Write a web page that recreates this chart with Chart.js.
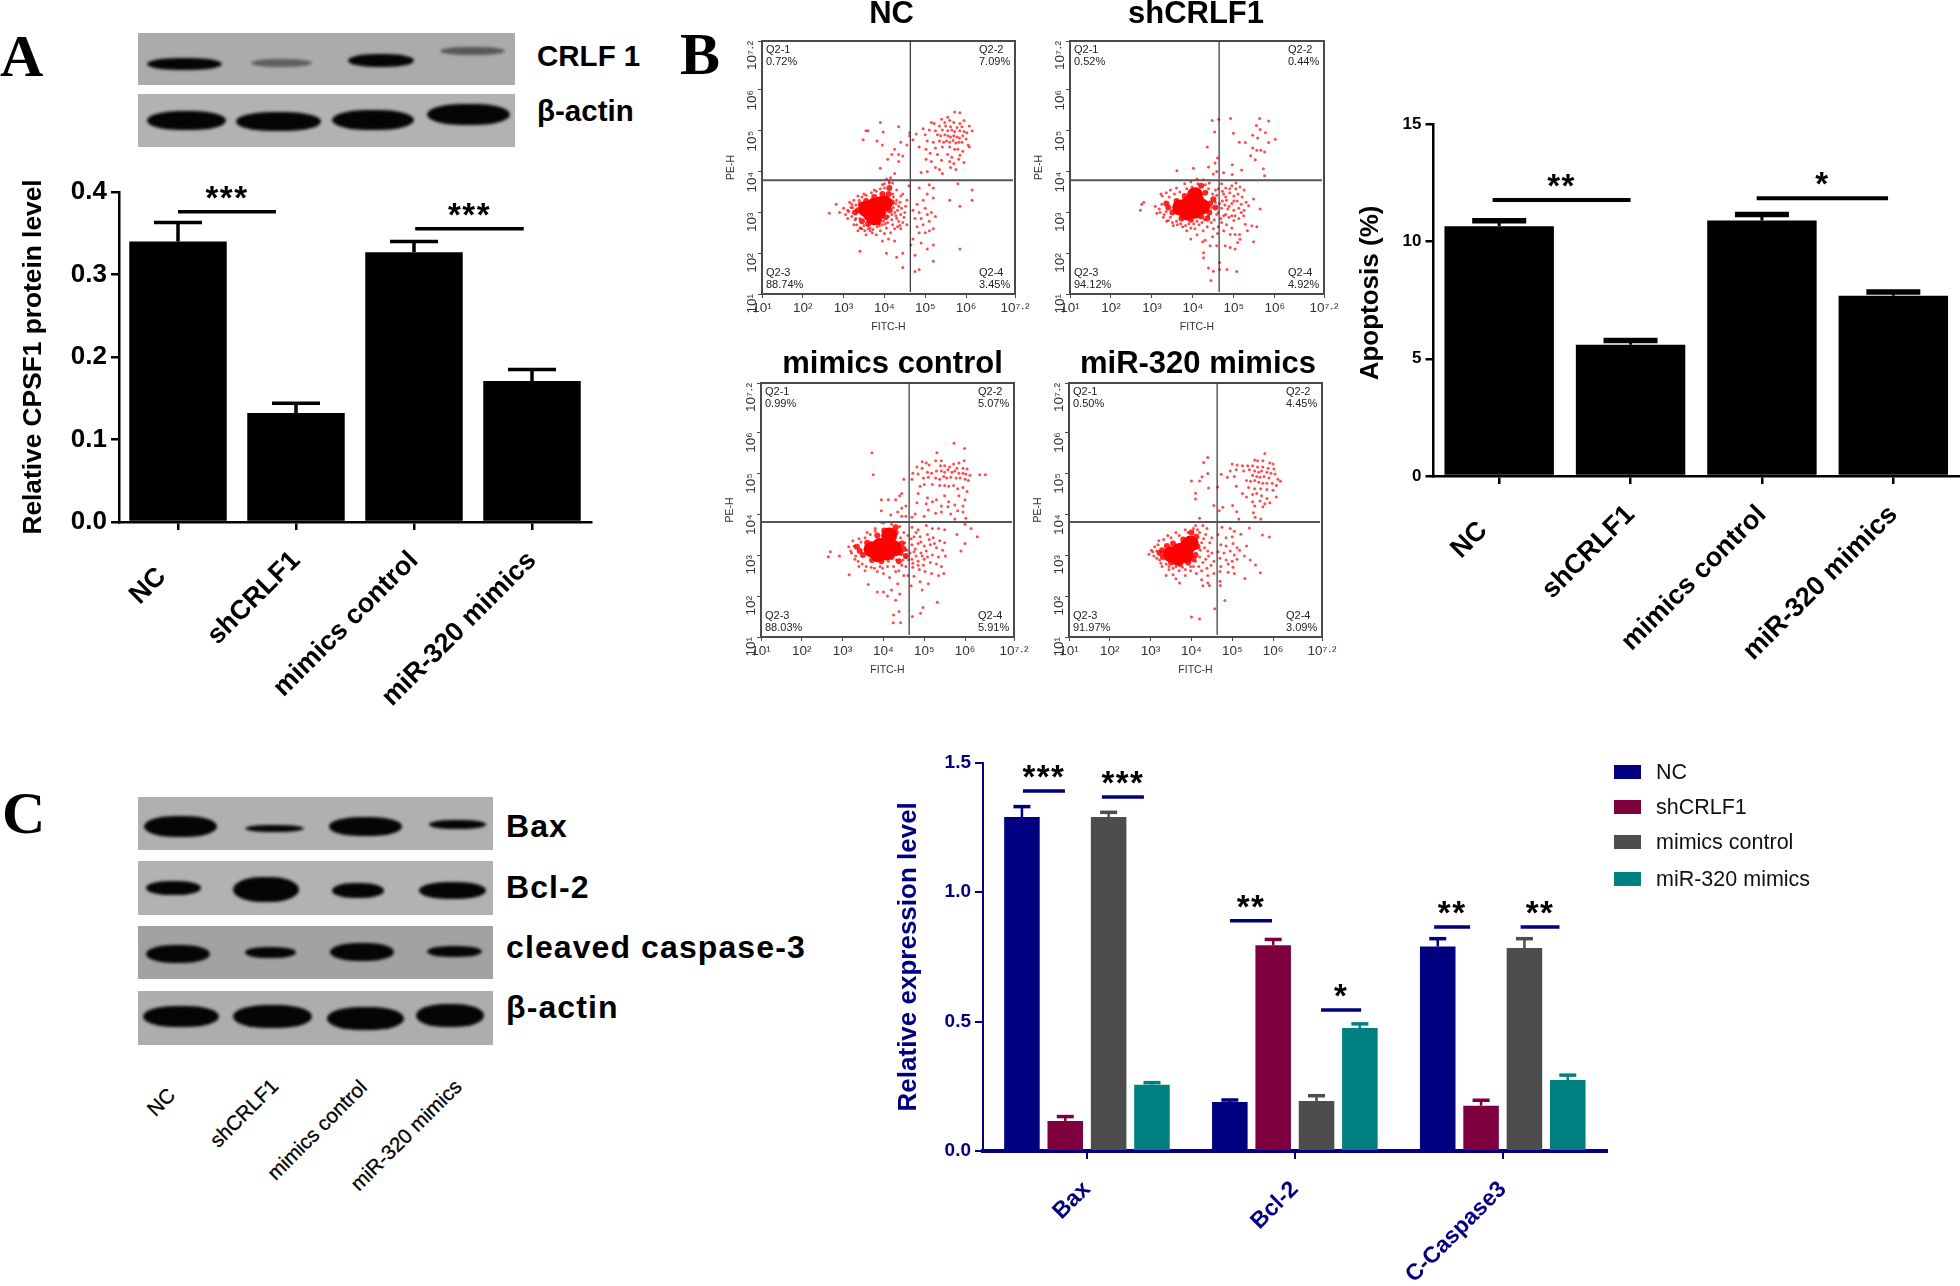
<!DOCTYPE html>
<html>
<head>
<meta charset="utf-8">
<script src="https://cdn.jsdelivr.net/npm/chart.js@4/dist/chart.umd.min.js"></script>
<style>
  html, body { margin: 0; padding: 0; background: #fff; }
  body { position: relative; width: 1960px; height: 1286px; overflow: hidden; font-family: "Liberation Sans", Arial, sans-serif; }
  canvas { position: absolute; }
  .txt { position: absolute; white-space: nowrap; color: #000; }
  .blot { position: absolute; overflow: hidden; }
  .band { position: absolute; border-radius: 42% / 50%; background: #050505; filter: blur(1.5px); }
</style>
</head>
<body>
<script>
// ---- data ----
const groups = ['NC', 'shCRLF1', 'mimics control', 'miR-320 mimics'];
// the NC label sits further from its tick in the original
const barLabels = ['NC   ', 'shCRLF1', 'mimics control', 'miR-320 mimics'];

const panelAValues = [0.340, 0.132, 0.327, 0.171];
const panelAErrTops = [0.363, 0.144, 0.340, 0.185];
const panelATicks = [0, 0.1, 0.2, 0.3, 0.4];
// from, to (in category units), height, stars
const panelASig = [[0, 0.83, 0.376, '***'], [2.01, 2.93, 0.3555, '***']];

const panelBValues = [10.66, 5.6, 10.9, 7.69];
const panelBErrTops = [10.89, 5.78, 11.16, 7.85];
const panelBTicks = [0, 5, 10, 15];
const panelBSig = [[-0.05, 1.0, 11.78, '**'], [1.96, 2.96, 11.85, '*']];

const panelCGenes = ['Bax', 'Bcl-2', 'C-Caspase3'];
const cNC = [1.29, 0.189, 0.79];
const cSh = [0.116, 0.795, 0.175];
const cMimics = [1.29, 0.193, 0.784];
const cMiR = [0.256, 0.475, 0.274];
const cNCErr = [1.33, 0.197, 0.82];
const cShErr = [0.133, 0.817, 0.196];
const cMimicsErr = [1.308, 0.2135, 0.82];
const cMiRErr = [0.264, 0.491, 0.293];
const panelCTicks = [0, 0.5, 1.0, 1.5];
const panelCSig = [
  [-0.308, -0.106, 1.39, '***'], [0.072, 0.274, 1.367, '***'],
  [0.688, 0.89, 0.8896, '**'], [1.126, 1.319, 0.545, '*'],
  [1.67, 1.843, 0.865, '**'], [2.086, 2.273, 0.865, '**']
];
const seriesColors = ['#000080', '#7f003f', '#4d4d4d', '#008080'];

// flow plots: values are log10 of the FITC-H / PE-H signal
const logTicks = [1, 2, 3, 4, 5, 6, 7.2];
const logTickLabels = ['10¹', '10²', '10³', '10⁴', '10⁵', '10⁶', '10⁷·²'];
const quadX = [4.635, 4.64, 4.63, 4.63];
const quadY = [3.79, 3.79, 3.81, 3.81];
const flowPct = [
  ['0.72%', '7.09%', '88.74%', '3.45%'],
  ['0.52%', '0.44%', '94.12%', '4.92%'],
  ['0.99%', '5.07%', '88.03%', '5.91%'],
  ['0.50%', '4.45%', '91.97%', '3.09%']
];

const ncCore = [[3.55,3.08],[3.75,3.16],[3.91,3.20],[3.67,2.96],[3.83,3.0],[3.75,2.88],[4.0,3.22]];
const ncMid = [[3.35,3.05],[3.28,3.0],[3.45,2.78],[3.6,2.72],[3.85,2.76],[4.03,2.88],[4.13,3.05],[4.18,3.25],[4.1,3.45],[3.95,3.45],[3.75,3.38],[3.55,3.28],[4.12,3.6],[3.42,3.2],[3.98,3.02]];
const ncDots = [[5.72,5.46],[5.85,5.44],[5.55,5.33],[5.4,5.28],[5.6,5.25],[5.95,5.25],[5.15,5.2],[5.22,5.18],[5.48,5.2],[5.7,5.2],[5.85,5.18],[6.08,5.12],[5.35,5.12],[5.5,5.12],[5.62,5.1],[5.78,5.08],[5.9,5.1],[6.15,5.0],[4.95,5.05],[5.1,5.02],[5.25,5.0],[5.42,5.02],[5.55,5.0],[5.65,5.02],[5.72,4.98],[5.85,5.0],[5.95,4.98],[6.02,4.95],[4.78,4.92],[5.0,4.9],[5.3,4.9],[5.38,4.88],[5.48,4.9],[5.56,4.88],[5.62,4.85],[5.7,4.88],[5.78,4.85],[5.84,4.82],[5.92,4.88],[6.0,4.8],[4.7,4.78],[5.05,4.75],[5.2,4.72],[5.35,4.75],[5.45,4.72],[5.52,4.75],[5.6,4.72],[5.68,4.76],[5.75,4.7],[5.82,4.72],[5.9,4.72],[6.05,4.65],[4.85,4.6],[5.02,4.55],[5.25,4.58],[5.42,4.6],[5.6,4.6],[5.72,4.55],[5.8,4.55],[5.92,4.5],[6.08,4.6],[5.12,4.45],[5.3,4.42],[5.55,4.42],[5.65,4.35],[5.85,4.4],[5.02,4.3],[5.15,4.25],[5.4,4.28],[5.6,4.25],[5.7,4.2],[5.82,4.3],[5.95,4.22],[5.25,4.1],[5.35,4.05],[5.62,4.1],[5.75,4.05],[5.05,4.0],[4.9,3.98],[5.42,3.95],
  [3.9,5.2],[3.55,5.0],[3.6,5.0],[3.97,4.97],[3.48,4.78],[3.82,4.75],[3.95,4.65],[4.35,5.1],[4.62,4.95],[4.62,4.88],[4.4,4.72],[4.55,4.65],[4.25,4.55],[4.18,4.42],[4.35,4.42],[4.45,4.38],[4.08,4.3],[4.35,4.25],[3.9,4.08],[4.25,3.95],
  [4.6,3.65],[4.85,3.6],[5.1,3.68],[5.2,3.6],[5.05,3.45],[5.2,3.35],[5.8,3.7],[6.15,3.55],[6.15,3.3],[5.6,3.3],[5.85,3.15],[4.95,3.3],[4.8,3.2],[4.7,3.05],[4.85,3.0],[5.0,3.1],[5.05,2.95],[5.15,3.0],[4.75,2.85],[4.9,2.85],[4.95,2.7],[5.1,2.78],[5.25,2.9],[4.8,2.65],[4.85,2.5],[5.0,2.5],[5.1,2.55],[5.2,2.6],[4.7,2.35],[4.65,2.2],[4.9,2.25],[5.05,2.1],[5.2,2.2],[5.85,2.1],[4.75,1.95],[5.2,1.8],[4.85,1.6],[4.75,1.55],[4.45,1.65],[4.45,2.0],[4.3,1.9],[4.05,2.0],[3.4,2.05],
  [2.65,2.98],[2.82,3.2],[2.9,3.0],[3.0,3.1],[3.05,2.95],[3.1,2.85],[3.2,3.2],[3.25,3.3],[3.25,2.7],[3.35,2.55],[3.45,2.6],[3.55,2.45],[3.6,2.68],[3.7,2.5],[3.8,2.45],[3.9,2.55],[3.95,2.7],[4.05,2.62],[4.15,2.5],[4.2,2.7],[4.3,2.85],[4.25,3.0],[4.35,3.15],[4.3,3.3],[4.2,3.45],[4.3,3.55],[4.12,3.75],[4.0,3.7],[3.75,3.55],[3.5,3.45],[3.35,3.4],[4.45,2.75],[4.5,3.0],[4.4,2.6],[4.55,3.3],[4.1,2.35],[4.25,2.3],[3.95,2.3],[3.18,3.12],[3.12,3.02],[3.3,2.85],[3.4,2.62],[3.65,2.55],[4.0,2.48],[4.32,2.65],[4.4,2.95],[4.4,3.4],
  [3.1,3.05],[3.15,3.25],[3.2,2.9],[3.22,3.12],[3.28,2.82],[3.3,3.18],[3.32,2.7],[3.38,3.3],[3.4,2.85],[3.42,2.62],[3.45,3.38],[3.5,2.68],[3.52,2.55],[3.55,3.42],[3.6,2.6],[3.65,2.62],[3.68,3.48],[3.72,2.58],[3.75,2.72],[3.8,3.52],[3.82,2.65],[3.88,2.68],[3.9,3.58],[3.92,2.8],[3.98,2.78],[4.0,3.6],[4.02,2.72],[4.08,2.75],[4.1,2.9],[4.12,3.72],[4.18,2.82],[4.18,2.95],[4.22,3.12],[4.22,3.38],[4.25,2.6],[4.28,3.22],[4.28,2.92],[4.32,3.05],[4.35,2.78],[4.38,3.25],[4.38,2.68],[4.42,3.1],[4.45,3.45],[4.48,2.88],[4.52,3.15],[4.55,2.7],[4.15,3.85],[4.2,3.72],[4.05,3.82],[3.95,3.68]];

const shCore = [[3.69,3.12],[3.89,3.2],[4.09,3.26],[3.85,3.0],[4.05,3.04],[4.22,3.14],[4.05,3.42]];
const shMid = [[3.4,3.12],[3.5,3.0],[3.6,3.28],[3.72,2.85],[3.95,2.82],[4.2,2.9],[4.4,3.0],[4.42,3.22],[4.3,3.48],[4.2,3.65],[3.8,3.4],[4.5,3.32],[4.55,3.12],[3.35,3.22],[4.35,2.85]];
const shDots = [[5.63,5.3],[5.85,5.24],[5.55,5.13],[5.64,5.03],[5.46,4.89],[5.77,4.95],[5.58,4.82],[6.01,4.79],[5.13,4.72],[5.28,4.71],[5.85,4.71],[5.46,4.58],[5.56,4.52],[5.66,4.52],[5.75,4.48],[5.52,4.29],[5.41,4.39],[5.72,4.07],[5.19,4.04],[5.75,3.9],[4.96,4.17],[4.96,3.93],[4.99,4.94],[4.92,5.3],[4.53,4.97],[4.47,5.25],[4.63,5.28],[4.35,4.6],[4.6,4.33],[4.54,4.21],[4.01,4.08],[3.61,4.02],[4.38,4.11],[4.5,3.94],[4.75,3.97],[4.58,4.0],
  [4.26,2.01],[4.26,1.89],[4.38,1.64],[4.5,1.56],[4.65,1.77],[4.65,1.6],[4.83,1.6],[5.07,1.55],[4.44,1.33],[4.24,2.28],[4.42,2.18],[4.58,2.18],[4.79,2.18],[4.91,2.14],[5.03,2.1],[5.09,2.26],[5.15,2.34],[4.91,2.46],[5.03,2.46],[5.14,2.46],[5.48,2.28],[5.33,2.55],[5.44,2.67],[5.56,2.65],[5.28,2.71],[5.03,2.92],[5.64,3.08],[5.48,3.33],[5.36,3.16],[5.24,2.92],
  [4.7,3.7],[4.8,3.6],[4.95,3.65],[5.05,3.72],[5.15,3.62],[5.25,3.55],[4.75,3.45],[4.9,3.48],[5.0,3.4],[5.1,3.45],[5.2,3.38],[4.72,3.28],[4.82,3.3],[4.95,3.22],[5.08,3.28],[5.18,3.2],[5.3,3.25],[4.7,3.1],[4.85,3.08],[5.0,3.05],[5.12,3.1],[5.25,3.05],[4.75,2.92],[4.88,2.88],[5.0,2.8],[5.12,2.85],[4.7,2.75],[4.82,2.7],[4.95,2.62],[4.75,2.55],[4.6,2.48],[4.5,2.6],[4.45,2.75],[4.35,2.65],[4.25,2.55],[4.15,2.7],[4.05,2.6],[3.95,2.62],[3.85,2.55],[3.75,2.65],[3.62,2.7],[3.5,2.75],[3.4,2.8],[3.3,2.95],[3.2,3.0],[3.12,2.98],[3.08,3.15],[3.25,3.4],[3.35,3.48],[3.45,3.55],[3.6,3.6],[3.8,3.7],[3.95,3.75],[4.1,3.82],[4.25,3.8],[4.4,3.72],[2.8,3.25],[2.75,3.2],[2.72,3.05],[3.22,3.45],[3.95,2.35],[4.1,2.45],[4.3,2.32],[4.48,2.4],[4.58,2.95],[4.55,3.55],
  [3.18,3.08],[3.24,3.2],[3.28,2.88],[3.35,3.02],[3.36,2.78],[3.42,3.38],[3.45,2.88],[3.52,2.68],[3.55,3.45],[3.6,2.78],[3.68,3.5],[3.7,2.72],[3.82,2.68],[3.85,3.58],[3.9,2.72],[3.98,3.62],[4.02,2.72],[4.1,2.78],[4.12,3.7],[4.22,2.75],[4.28,2.82],[4.3,3.68],[4.38,3.58],[4.38,2.92],[4.45,3.12],[4.48,3.45],[4.52,2.82],[4.55,3.25],[4.58,3.42],[4.62,3.0],[4.62,3.58],[4.62,2.65],[4.65,3.22],[4.68,2.85],[4.72,3.52],[4.78,3.18],[4.8,2.95],[4.8,3.38],[4.88,3.15],[4.9,3.58],[4.95,2.92],[5.0,3.28],[5.05,3.58],[5.18,3.0]];

const mimCore = [[3.71,3.14],[3.91,3.22],[4.12,3.28],[3.87,3.02],[4.07,3.06],[4.26,3.16],[4.14,3.48]];
const mimMid = [[3.42,3.1],[3.5,3.0],[3.6,3.3],[3.72,2.88],[3.95,2.85],[4.2,2.95],[4.42,3.05],[4.45,3.28],[4.3,3.55],[3.85,3.48],[4.02,3.6],[4.5,3.15],[3.35,3.2],[4.38,2.85],[4.55,2.98],[4.3,3.68]];
const mimDots = [[3.72,5.5],[3.75,4.96],[5.73,5.73],[5.31,5.5],[5.99,5.6],[6.36,4.96],[6.5,4.96],[2.7,3.08],[2.65,2.96],[2.92,2.98],[3.16,2.52],[3.63,2.28],[5.32,1.85],[4.97,1.72],[4.91,1.58],[4.71,1.5],[4.38,1.62],[4.25,1.54],[4.42,1.35],[4.24,1.35],
  [4.95,5.28],[5.05,5.25],[5.28,5.3],[5.42,5.3],[5.72,5.22],[5.85,5.25],[5.98,5.3],[4.82,5.15],[4.95,5.12],[5.12,5.2],[5.4,5.18],[5.5,5.18],[5.62,5.15],[5.8,5.12],[5.95,5.12],[6.05,5.1],[4.72,5.0],[4.85,4.98],[5.08,5.02],[5.18,5.0],[5.3,5.05],[5.42,5.05],[5.5,5.02],[5.58,5.08],[5.68,5.02],[5.75,5.05],[5.85,5.0],[5.95,5.0],[6.02,4.98],[6.12,4.95],[4.7,4.85],[4.98,4.88],[5.1,4.9],[5.28,4.88],[5.38,4.85],[5.48,4.92],[5.55,4.88],[5.65,4.9],[5.78,4.88],[5.88,4.88],[6.0,4.85],[6.08,4.82],[4.9,4.68],[5.0,4.72],[5.2,4.72],[5.38,4.7],[5.5,4.7],[5.6,4.68],[5.72,4.7],[5.82,4.62],[5.95,4.65],[6.05,4.55],
  [4.85,4.5],[5.08,4.4],[5.3,4.35],[5.5,4.45],[5.6,4.3],[5.85,4.45],[6.0,4.35],[5.2,4.3],[5.05,4.25],[4.82,4.28],[5.42,4.2],[5.58,4.18],[5.75,4.22],[5.95,4.2],[5.1,4.1],[5.28,4.02],[5.42,4.05],[5.65,4.0],[5.82,4.08],[5.0,3.95],[4.78,4.0],[4.7,3.92],[5.95,4.05],[6.02,3.9],[5.75,3.88],[4.5,4.85],[4.45,4.5],[4.3,4.35],[4.12,4.35],[3.95,4.35],[4.4,4.45],[4.55,4.2],[4.45,4.15],[4.35,4.05],[4.45,3.95],[4.55,3.95],[3.95,4.08],[4.18,3.98],[3.95,3.8],
  [4.7,3.68],[4.85,3.62],[5.05,3.72],[5.2,3.65],[5.35,3.65],[5.5,3.62],[6.0,3.75],[6.15,3.65],[6.3,3.45],[5.8,3.5],[6.0,3.28],[5.9,3.1],[4.75,3.45],[4.9,3.45],[5.08,3.5],[5.22,3.42],[5.38,3.35],[5.5,3.3],[4.7,3.25],[4.85,3.28],[5.0,3.22],[5.15,3.25],[5.3,3.18],[5.45,3.12],[4.75,3.08],[4.92,3.05],[5.05,3.1],[5.2,3.0],[5.35,2.95],[5.52,2.98],[4.7,2.9],[4.85,2.85],[5.0,2.9],[5.15,2.82],[5.3,2.78],[5.42,2.72],[4.72,2.7],[4.88,2.65],[5.02,2.6],[5.18,2.55],[5.35,2.5],[5.48,2.55],[4.75,2.48],[4.9,2.35],[5.1,2.3],[4.95,2.15],[4.68,2.25],
  [3.15,3.2],[3.22,3.05],[3.3,2.9],[3.4,2.72],[3.55,2.62],[3.7,2.7],[3.85,2.6],[4.0,2.55],[4.15,2.45],[4.3,2.6],[4.45,2.75],[4.55,2.95],[4.5,2.5],[4.35,2.3],[4.2,2.15],[4.0,2.1],[4.1,2.0],[4.4,2.05],[4.3,1.9],[3.85,2.1],[3.25,3.35],[3.4,3.4],[3.6,3.55],[3.8,3.65],[4.0,3.78],[4.2,3.75],[4.4,3.7],
  [3.2,3.1],[3.28,3.22],[3.32,2.98],[3.38,2.85],[3.45,3.32],[3.48,2.78],[3.55,3.42],[3.58,2.72],[3.68,3.5],[3.78,2.68],[3.8,3.58],[3.92,2.72],[3.98,2.68],[4.1,2.72],[4.12,2.85],[4.25,2.72],[4.32,2.88],[4.38,2.62],[4.42,3.42],[4.48,2.88],[4.5,3.55],[4.52,3.3],[4.55,2.72],[4.58,3.12],[4.6,3.48],[4.6,2.5],[4.62,2.88],[4.65,3.05],[4.68,3.4],[4.72,2.8],[4.78,3.15],[4.8,3.55],[4.8,2.98],[4.85,2.75],[4.92,3.32],[4.95,2.98],[4.98,2.75],[5.08,2.95],[5.12,3.38],[5.25,3.28]];

const miRCore = [[3.5,3.02],[3.71,3.1],[3.88,3.18],[3.67,2.94],[3.85,3.0],[3.98,3.28]];
const miRMid = [[3.22,3.05],[3.3,2.95],[3.4,3.22],[3.5,2.82],[3.72,2.78],[3.92,2.82],[4.1,3.0],[4.15,3.2],[4.12,3.45],[4.0,3.55],[3.8,3.38],[3.55,3.28],[3.28,3.12],[4.05,2.9],[3.62,3.18]];
const miRDots = [[4.4,5.38],[4.3,5.26],[4.4,4.99],[4.73,4.97],[4.26,4.91],[4.0,4.81],[4.2,4.81],[4.42,4.64],[4.64,4.66],[4.1,4.51],[4.1,4.37],[4.55,4.21],[4.77,4.17],[4.68,4.08],[5.01,4.21],[5.11,4.06],[5.16,3.88],[5.52,4.03],[5.7,3.88],[5.56,3.92],[4.2,3.9],
  [5.42,3.66],[5.74,3.49],[5.91,3.44],[5.21,3.51],[5.35,3.22],[5.3,2.98],[5.44,2.88],[5.57,2.76],[5.69,2.57],[5.31,2.43],[4.82,1.89],[4.57,1.69],[4.0,1.49],[4.2,1.44],[4.28,2.25],[4.44,2.26],[4.7,2.36],[4.71,2.26],[3.71,2.32],[3.38,2.5],[2.96,3.02],[3.05,3.08],
  [5.8,5.48],[5.55,5.32],[5.62,5.3],[5.75,5.3],[5.92,5.25],[6.0,5.22],[5.0,5.22],[5.12,5.2],[5.25,5.18],[5.38,5.18],[5.5,5.18],[5.62,5.15],[5.75,5.15],[5.88,5.12],[6.02,5.1],[4.95,5.05],[5.1,5.08],[5.28,5.05],[5.42,5.08],[5.55,5.05],[5.65,5.02],[5.72,5.05],[5.85,5.02],[5.95,5.0],[6.05,4.98],[4.88,4.9],[5.05,4.92],[5.5,4.95],[5.6,4.92],[5.68,4.9],[5.78,4.92],[5.9,4.88],[6.12,4.85],[6.18,4.8],[5.35,4.82],[5.45,4.8],[5.55,4.82],[5.65,4.78],[5.75,4.75],[5.85,4.75],[5.98,4.75],[6.08,4.7],[5.1,4.68],[5.4,4.65],[5.55,4.62],[5.7,4.62],[5.85,4.6],[6.0,4.58],[5.25,4.5],[5.35,4.42],[5.5,4.48],[5.6,4.5],[5.72,4.45],[5.85,4.38],[6.08,4.42],[5.5,4.3],[5.68,4.32],[5.8,4.25],[5.92,4.28],[5.75,4.18],[5.55,4.2],
  [4.75,3.68],[4.95,3.65],[5.05,3.58],[4.65,3.5],[4.85,3.42],[5.0,3.45],[4.72,3.25],[4.85,3.22],[5.02,3.28],[5.12,3.18],[4.65,3.08],[4.8,3.05],[4.95,3.1],[5.05,3.0],[5.18,3.12],[4.7,2.92],[4.85,2.88],[5.0,2.85],[5.12,2.9],[4.72,2.72],[4.9,2.78],[5.02,2.7],[4.9,2.58],[5.05,2.55],[4.7,2.6],[4.55,2.55],[4.4,2.5],[4.25,2.62],[4.12,2.55],[3.98,2.62],[3.85,2.5],[3.7,2.62],[3.55,2.52],[3.45,2.65],[3.25,2.8],[3.15,2.92],[3.1,3.2],[3.2,3.35],[3.42,3.48],[3.62,3.55],[3.85,3.62],[4.1,3.72],[4.28,3.72],[4.38,3.65],[4.45,3.3],[4.4,3.1],[4.35,2.9],[4.5,3.05],[4.3,3.4],[4.55,2.85],[3.62,2.42],[4.25,2.4],[4.4,2.32],
  [3.02,3.12],[3.08,2.98],[3.15,3.1],[3.18,3.25],[3.22,2.88],[3.28,2.72],[3.32,3.38],[3.38,2.78],[3.45,2.72],[3.5,3.42],[3.55,2.68],[3.62,2.72],[3.7,3.48],[3.78,2.7],[3.85,2.65],[3.92,3.55],[3.98,2.72],[4.05,2.72],[4.1,2.85],[4.18,2.72],[4.2,2.95],[4.22,3.12],[4.25,3.3],[4.28,2.82],[4.32,3.18],[4.35,3.5],[4.38,2.68],[4.42,2.98],[4.48,2.75],[4.5,3.42],[4.15,3.62],[4.2,3.55],[4.05,3.65]];

const flowPlots = [
  { title: 'NC', core: ncCore, mid: ncMid, dots: ncDots },
  { title: 'shCRLF1', core: shCore, mid: shMid, dots: shDots },
  { title: 'mimics control', core: mimCore, mid: mimMid, dots: mimDots },
  { title: 'miR-320 mimics', core: miRCore, mid: miRMid, dots: miRDots }
];

// ---- page helpers ----
function addText(text, x, y, font, extra) {
  const el = document.createElement('div');
  el.className = 'txt';
  el.textContent = text;
  el.style.left = x + 'px';
  el.style.top = y + 'px';
  el.style.font = font;
  el.style.transform = 'translateY(-50%)';
  if (extra) Object.assign(el.style, extra);
  document.body.appendChild(el);
  return el;
}

function addBlot(x1, x2, y1, y2, bg, bands) {
  const el = document.createElement('div');
  el.className = 'blot';
  el.style.cssText = `left:${x1}px;top:${y1}px;width:${x2 - x1}px;height:${y2 - y1}px;background:${bg}`;
  bands.forEach(b => {
    const d = document.createElement('div');
    d.className = 'band';
    d.style.cssText = `left:${b[0] - x1}px;top:${b[2] - b[3] / 2 - y1}px;width:${b[1] - b[0]}px;height:${b[3]}px;opacity:${b[4] || 1}`;
    el.appendChild(d);
  });
  document.body.appendChild(el);
}

function addCanvas(box) {
  const c = document.createElement('canvas');
  c.width = box.r - box.l;
  c.height = box.b - box.t;
  c.style.left = box.l + 'px';
  c.style.top = box.t + 'px';
  c.style.width = c.width + 'px';
  c.style.height = c.height + 'px';
  document.body.appendChild(c);
  return c;
}

// upper error bars, drawn from the value scale
const errorBarPlugin = {
  id: 'errorBars',
  afterDatasetsDraw(chart, args, opts) {
    const ctx = chart.ctx, y = chart.scales.y;
    ctx.save();
    chart.data.datasets.forEach((ds, i) => {
      if (!opts.tops[i]) return;
      ctx.strokeStyle = ds.backgroundColor;
      chart.getDatasetMeta(i).data.forEach((bar, j) => {
        const top = y.getPixelForValue(opts.tops[i][j]);
        ctx.lineWidth = opts.stem;
        ctx.beginPath();
        ctx.moveTo(bar.x, y.getPixelForValue(ds.data[j]));
        ctx.lineTo(bar.x, top);
        ctx.stroke();
        ctx.lineWidth = opts.capThick;
        ctx.beginPath();
        ctx.moveTo(bar.x - opts.cap / 2, top);
        ctx.lineTo(bar.x + opts.cap / 2, top);
        ctx.stroke();
      });
    });
    ctx.restore();
  }
};

// significance lines with their stars
const sigPlugin = {
  id: 'sigMarks',
  afterDatasetsDraw(chart, args, opts) {
    const ctx = chart.ctx, x = chart.scales.x, y = chart.scales.y;
    ctx.save();
    opts.marks.forEach(m => {
      const x1 = x.getPixelForValue(m[0]), x2 = x.getPixelForValue(m[1]), py = y.getPixelForValue(m[2]);
      ctx.strokeStyle = opts.color;
      ctx.lineWidth = opts.width;
      ctx.beginPath();
      ctx.moveTo(x1, py);
      ctx.lineTo(x2, py);
      ctx.stroke();
      ctx.fillStyle = '#000';
      ctx.font = 'bold 33px "Liberation Sans"';
      ctx.letterSpacing = '1.5px';
      ctx.textAlign = 'center';
      ctx.textBaseline = 'alphabetic';
      ctx.fillText(m[3], (x1 + x2) / 2 + (opts.starDx || 0), py + opts.starDy);
    });
    ctx.restore();
  }
};

function barChart(cfg) {
  const { box, plot } = cfg;
  const titleLine = cfg.titleSize * 1.2;
  new Chart(addCanvas(box), {
    type: 'bar',
    data: { labels: cfg.labels, datasets: cfg.datasets },
    plugins: [errorBarPlugin, sigPlugin],
    options: {
      responsive: false,
      animation: false,
      layout: { padding: { top: plot.t - box.t, right: box.r - plot.r, left: 0, bottom: 0 } },
      datasets: { bar: { categoryPercentage: cfg.catPct, barPercentage: cfg.barPct } },
      plugins: {
        legend: { display: false },
        tooltip: { enabled: false },
        errorBars: cfg.err,
        sigMarks: cfg.sig
      },
      scales: {
        x: {
          border: { color: cfg.color, width: cfg.xAxisWidth },
          grid: { display: true, offset: false, drawOnChartArea: false, color: cfg.color, lineWidth: cfg.tickWidth, tickLength: 8 },
          ticks: { color: cfg.color, font: cfg.xFont, minRotation: 45, maxRotation: 45, padding: cfg.xPad, autoSkip: false },
          afterFit: s => { s.height = box.b - plot.b; }
        },
        y: {
          min: cfg.yTicks[0],
          max: cfg.yTicks[cfg.yTicks.length - 1],
          afterBuildTicks: s => { s.ticks = cfg.yTicks.map(v => ({ value: v })); },
          border: { color: cfg.color, width: cfg.yAxisWidth },
          grid: { display: true, drawOnChartArea: false, color: cfg.color, lineWidth: cfg.tickWidth, tickLength: 8 },
          ticks: { color: cfg.color, font: cfg.yFont, padding: 4, callback: v => v.toFixed(cfg.yDecimals) },
          title: {
            display: true,
            text: cfg.yTitle,
            color: cfg.color,
            font: { family: 'Liberation Sans', weight: 'bold', size: cfg.titleSize },
            padding: { top: cfg.titleX - box.l - titleLine / 2, bottom: 0 }
          },
          afterFit: s => { s.width = plot.l - box.l; }
        }
      }
    }
  });
}

const quadrantPlugin = {
  id: 'quadrants',
  afterDatasetsDraw(chart, args, opts) {
    const { ctx, chartArea: a, scales: { x, y } } = chart;
    ctx.save();
    ctx.strokeStyle = '#4a4a4a';
    ctx.lineWidth = 2;
    ctx.strokeRect(a.left, a.top, a.right - a.left, a.bottom - a.top);
    ctx.strokeStyle = '#333';
    ctx.lineWidth = 1.2;
    ctx.beginPath();
    ctx.moveTo(x.getPixelForValue(opts.qx), a.top);
    ctx.lineTo(x.getPixelForValue(opts.qx), a.bottom - 2);
    ctx.stroke();
    ctx.strokeStyle = '#555';
    ctx.lineWidth = 2;
    ctx.beginPath();
    ctx.moveTo(a.left, y.getPixelForValue(opts.qy));
    ctx.lineTo(a.right - 2, y.getPixelForValue(opts.qy));
    ctx.stroke();
    // quadrant captions
    ctx.fillStyle = '#222';
    ctx.font = '11px "Liberation Sans"';
    ctx.textBaseline = 'middle';
    const rows = [['Q2-1', opts.pct[0], a.left + 4, a.top + 9, a.top + 21],
                  ['Q2-2', opts.pct[1], a.right - 36, a.top + 9, a.top + 21],
                  ['Q2-3', opts.pct[2], a.left + 4, a.bottom - 21, a.bottom - 9],
                  ['Q2-4', opts.pct[3], a.right - 36, a.bottom - 21, a.bottom - 9]];
    rows.forEach(r => {
      ctx.fillText(r[0], r[2], r[3]);
      ctx.fillText(r[1], r[2], r[4]);
    });
    ctx.restore();
  }
};

function flowChart(p, i, plot) {
  const box = { l: plot.l - 38, r: plot.r + 24, t: plot.t - 20, b: plot.b + 43 };
  const logAxis = axis => ({
    type: 'linear',
    min: 1,
    max: 7.2,
    afterBuildTicks: s => { s.ticks = logTicks.map(v => ({ value: v })); },
    border: { color: '#4a4a4a', width: 2 },
    grid: { display: true, drawOnChartArea: false, color: '#4a4a4a', lineWidth: 1, tickLength: 4 },
    ticks: {
      color: '#333',
      font: { family: 'Liberation Sans', size: 13.5 },
      padding: axis === 'y' ? 6 : 2,
      autoSkip: false,
      minRotation: axis === 'y' ? 90 : 0,
      maxRotation: axis === 'y' ? 90 : 0,
      callback: v => logTickLabels[logTicks.indexOf(v)]
    }
  });
  const xAxis = logAxis('x');
  xAxis.title = { display: true, text: 'FITC-H', color: '#333', font: { family: 'Liberation Sans', size: 10.5 }, padding: { top: 0, bottom: 4 } };
  xAxis.afterFit = s => { s.height = box.b - plot.b; };
  const yAxis = logAxis('y');
  yAxis.title = { display: true, text: 'PE-H', color: '#333', font: { family: 'Liberation Sans', size: 10.5 }, padding: { top: 1, bottom: 0 } };
  yAxis.afterFit = s => { s.width = plot.l - box.l; };
  new Chart(addCanvas(box), {
    type: 'scatter',
    data: {
      datasets: [
        { data: p.dots.map(d => ({ x: d[0], y: d[1] })), pointRadius: 1.5, backgroundColor: 'rgba(255,0,0,0.7)', borderWidth: 0 },
        { data: p.mid.map(d => ({ x: d[0], y: d[1] })), pointRadius: 3, backgroundColor: 'rgba(255,0,0,0.85)', borderWidth: 0 },
        { data: p.core.map(d => ({ x: d[0], y: d[1] })), pointRadius: 8, backgroundColor: '#ff0000', borderWidth: 0 }
      ]
    },
    plugins: [quadrantPlugin],
    options: {
      responsive: false,
      animation: false,
      layout: { padding: { top: plot.t - box.t, right: box.r - plot.r, left: 0, bottom: 0 } },
      plugins: {
        legend: { display: false },
        tooltip: { enabled: false },
        quadrants: { qx: quadX[i], qy: quadY[i], pct: flowPct[i] }
      },
      scales: { x: xAxis, y: yAxis }
    }
  });
}

// ---- panel A ----
addText('A', 0, 56, 'bold 60px "Liberation Serif"');
addBlot(138, 515, 33, 85, '#ababab', [[147, 222, 64, 12], [251, 312, 63, 8, 0.45], [348, 414, 60.6, 13], [440, 505, 50.5, 8, 0.5]]);
addBlot(138, 515, 94, 147, '#b2b2b2', [[147, 226, 120.7, 19], [236, 321, 121.7, 19], [332, 414, 120, 20], [427, 509.5, 114.8, 21]]);
addText('CRLF 1', 537, 56, 'bold 29.5px "Liberation Sans"');
addText('β-actin', 537, 111, 'bold 29.5px "Liberation Sans"');
barChart({
  box: { l: 0, r: 640, t: 170, b: 725 },
  plot: { l: 119, r: 591, t: 192, b: 522 },
  labels: barLabels,
  datasets: [{ data: panelAValues, backgroundColor: '#000' }],
  catPct: 1, barPct: 0.826,
  color: '#000', xAxisWidth: 2.5, yAxisWidth: 2.5, tickWidth: 2.5,
  xFont: { family: 'Liberation Sans', weight: 'bold', size: 27 }, xPad: 15,
  yFont: { family: 'Liberation Sans', weight: 'bold', size: 26 },
  yTicks: panelATicks, yDecimals: 1,
  yTitle: 'Relative CPSF1 protein level', titleSize: 26.3, titleX: 34,
  err: { tops: [panelAErrTops], stem: 3.5, cap: 48, capThick: 3.5 },
  sig: { marks: panelASig, color: '#000', width: 3.5, starDy: -3 }
});

// ---- panel B ----
addText('B', 680, 54, 'bold 60px "Liberation Serif"');
const flowRects = [
  { l: 762.4, r: 1016, t: 41, b: 294 },
  { l: 1070, r: 1324.4, t: 41, b: 294 },
  { l: 761, r: 1014.5, t: 383, b: 637 },
  { l: 1069.4, r: 1322.7, t: 383, b: 637 }
];
const titleCenters = [[891.6, 13], [1196, 13], [892.5, 363], [1198, 363]];
flowPlots.forEach((p, i) => {
  flowChart(p, i, flowRects[i]);
  addText(p.title, titleCenters[i][0], titleCenters[i][1], 'bold 31px "Liberation Sans"', { transform: 'translate(-50%,-50%)' });
});
barChart({
  box: { l: 1340, r: 1960, t: 100, b: 700 },
  plot: { l: 1433.5, r: 1959, t: 124.4, b: 476 },
  labels: barLabels,
  datasets: [{ data: panelBValues, backgroundColor: '#000' }],
  catPct: 1, barPct: 0.833,
  color: '#000', xAxisWidth: 2.5, yAxisWidth: 2.5, tickWidth: 2.5,
  xFont: { family: 'Liberation Sans', weight: 'bold', size: 27 }, xPad: 15,
  yFont: { family: 'Liberation Sans', weight: 'bold', size: 17 },
  yTicks: panelBTicks, yDecimals: 0,
  yTitle: '  Apoptosis (%)', titleSize: 26, titleX: 1371,
  err: { tops: [panelBErrTops], stem: 3, cap: 54, capThick: 5.5 },
  sig: { marks: panelBSig, color: '#000', width: 4, starDy: -3 }
});

// ---- panel C ----
addText('C', 2, 813, 'bold 60px "Liberation Serif"');
addBlot(138, 493, 797, 850, '#b0b0b0', [[143.5, 217, 826, 21], [245, 304, 828, 7], [329, 402, 826.7, 19], [428.5, 486, 824, 9]]);
addBlot(138, 493, 861, 915, '#b2b2b2', [[146, 201, 888, 14], [233, 299, 889, 25], [332, 384, 890.7, 15], [419, 486, 890.7, 17]]);
addBlot(138, 493, 926, 979, '#a2a2a2', [[146, 210, 954, 18], [245, 296, 952.7, 11], [330, 394, 952, 18], [427, 482, 951, 11]]);
addBlot(138, 493, 991, 1045, '#adadad', [[143, 218.5, 1016.7, 21], [233, 312, 1016.7, 23], [327, 404, 1018, 23], [415.6, 484, 1015, 23]]);
const blotLabelFont = 'bold 32px "Liberation Sans"';
addText('Bax', 506, 826, blotLabelFont, { letterSpacing: '1.1px' });
addText('Bcl-2', 506, 887, blotLabelFont, { letterSpacing: '1.1px' });
addText('cleaved caspase-3', 506, 947, blotLabelFont, { letterSpacing: '1.1px' });
addText('β-actin', 506, 1007, blotLabelFont, { letterSpacing: '1.1px' });
const laneCenters = [[160.7, 1101.7], [243.7, 1113], [317, 1130], [405.5, 1135]];
groups.forEach((g, i) => {
  addText(g, laneCenters[i][0], laneCenters[i][1], '20.5px "Liberation Sans"', { transform: 'translate(-50%,-50%) rotate(-45deg)', webkitTextStroke: '0.3px #000' });
});
barChart({
  box: { l: 880, r: 1640, t: 745, b: 1286 },
  plot: { l: 983, r: 1606.7, t: 762.6, b: 1151 },
  labels: panelCGenes,
  datasets: [
    { label: groups[0], data: cNC, backgroundColor: seriesColors[0] },
    { label: groups[1], data: cSh, backgroundColor: seriesColors[1] },
    { label: groups[2], data: cMimics, backgroundColor: seriesColors[2] },
    { label: groups[3], data: cMiR, backgroundColor: seriesColors[3] }
  ],
  catPct: 0.834, barPct: 0.82,
  color: '#000080', xAxisWidth: 4, yAxisWidth: 2, tickWidth: 2,
  xFont: { family: 'Liberation Sans', weight: 'bold', size: 23 }, xPad: 17,
  yFont: { family: 'Liberation Sans', weight: 'bold', size: 19 },
  yTicks: panelCTicks, yDecimals: 1,
  yTitle: 'Relative expression level', titleSize: 26, titleX: 909,
  err: { tops: [cNCErr, cShErr, cMimicsErr, cMiRErr], stem: 2.5, cap: 17, capThick: 3.5 },
  sig: { marks: panelCSig, color: '#000080', width: 3.5, starDy: -3 }
});
// legend of panel C
const legendRows = [772, 807, 842, 879];
groups.forEach((g, i) => {
  const sw = document.createElement('div');
  sw.style.cssText = `position:absolute;left:1614px;top:${legendRows[i] - 7}px;width:27px;height:14px;background:${seriesColors[i]}`;
  document.body.appendChild(sw);
  addText(g, 1656, legendRows[i], '21.5px "Liberation Sans"', { color: '#111' });
});
</script>
</body>
</html>
